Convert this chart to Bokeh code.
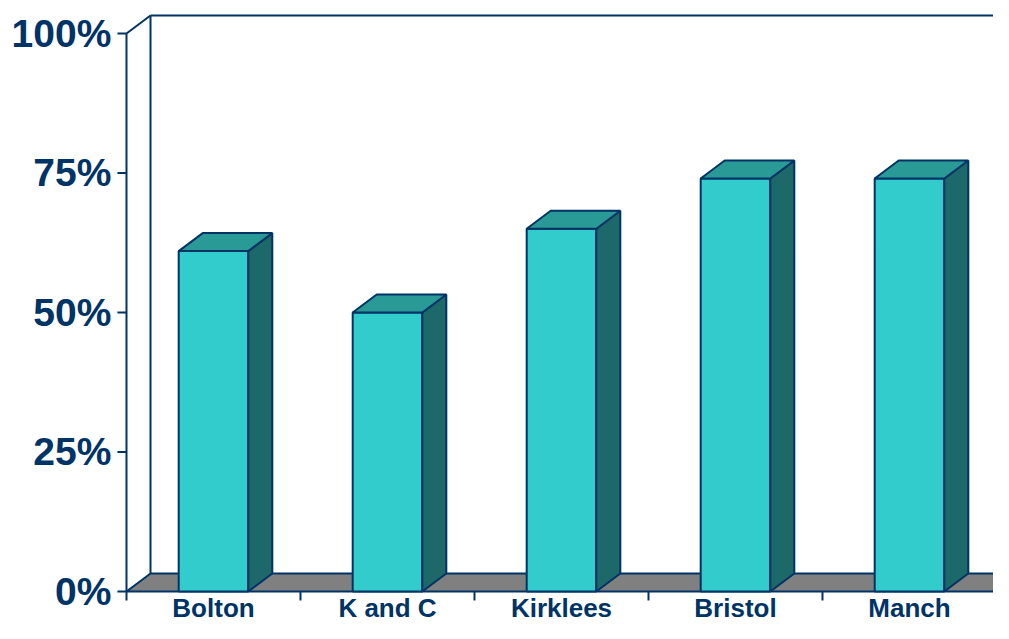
from bokeh.plotting import figure
from bokeh.models import Range1d
from bokeh.core.properties import value
from bokeh.embed import file_html
from bokeh.resources import INLINE

# ---- data ----
categories = ["Bolton", "K and C", "Kirklees", "Bristol", "Manch"]
values = [61, 50, 65, 74, 74]
y_ticks = [0, 25, 50, 75, 100]
y_tick_labels = ["0%", "25%", "50%", "75%", "100%"]

# ---- style ----
NAVY = "#003366"
FRONT = "#33CCCC"
SIDE = "#1D6868"
TOP = "#2A9A96"
FLOOR = "#808080"
FONT = value("Liberation Sans")

DX = 0.138   # 3D depth, category units
DY = 3.23    # 3D depth, percent units
HALF = 0.2   # half bar width
n = len(categories)

p = figure(width=993, height=623,
           x_range=Range1d(-0.7241, 4.9828), y_range=Range1d(-5.735, 105.91),
           output_backend="svg", toolbar_location=None,
           x_axis_type=None, y_axis_type=None, min_border=0,
           outline_line_color=None)
p.min_border_left = p.min_border_right = p.min_border_top = p.min_border_bottom = 0
p.background_fill_color = "white"
p.border_fill_color = "white"

# floor
p.patch([0, n, n + DX, DX], [0, 0, DY, DY], fill_color=FLOOR,
        line_color=NAVY, line_width=2)

# walls
top = y_ticks[-1]
p.multi_line(xs=[[DX, DX], [DX, n + 1], [0, DX], [0, 0]],
             ys=[[DY, top + DY], [top + DY, top + DY], [top, top + DY], [0, top]],
             line_color=NAVY, line_width=2)

# y ticks
p.segment(x0=[-0.052] * len(y_ticks), y0=y_ticks, x1=[0] * len(y_ticks), y1=y_ticks,
          line_color=NAVY, line_width=2)
# x ticks
xt = list(range(n + 1))
p.segment(x0=xt, y0=[0] * len(xt), x1=xt, y1=[-1.61] * len(xt),
          line_color=NAVY, line_width=2)

# bars
fx, fy, sx, sy, tx, ty = [], [], [], [], [], []
for i, v in enumerate(values):
    cx = i + 0.5
    x0, x1 = cx - HALF, cx + HALF
    fx.append([x0, x1, x1, x0]); fy.append([0, 0, v, v])
    sx.append([x1, x1 + DX, x1 + DX, x1]); sy.append([0, DY, v + DY, v])
    tx.append([x0, x1, x1 + DX, x0 + DX]); ty.append([v, v, v + DY, v + DY])

p.patches(xs=fx, ys=fy, fill_color=FRONT, line_color=NAVY, line_width=2)
p.patches(xs=sx, ys=sy, fill_color=SIDE, line_color=NAVY, line_width=2)
p.patches(xs=tx, ys=ty, fill_color=TOP, line_color=NAVY, line_width=2)

# y labels
p.text(x=[-0.087] * len(y_ticks), y=y_ticks, text=y_tick_labels,
       text_align="right", text_baseline="middle", text_font=FONT,
       text_font_size="39px", text_font_style="bold", text_color=NAVY)

# x labels
p.text(x=[i + 0.5 for i in range(n)], y=[-0.25] * n, text=categories,
       text_align="center", text_baseline="top", text_font=FONT,
       text_font_size="26px", text_font_style="bold", text_color=NAVY)

open("out.html", "w").write(file_html(p, INLINE))
